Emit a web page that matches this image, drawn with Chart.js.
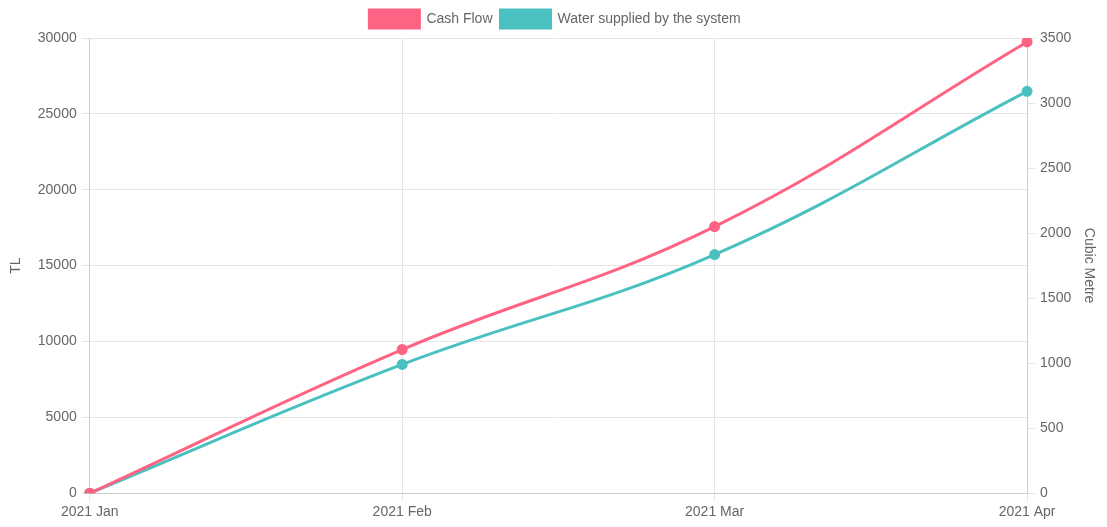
<!DOCTYPE html>
<html>
<head>
<meta charset="utf-8">
<script src="https://cdn.jsdelivr.net/npm/chart.js@4"></script>
<style>
  html, body { margin: 0; padding: 0; background: #fff; }
  #wrap { width: 1107px; height: 527px; }
</style>
</head>
<body>
<div id="wrap"><canvas id="canvas"></canvas></div>
<script>
const months = ['2021 Jan', '2021 Feb', '2021 Mar', '2021 Apr'];
const cashFlow = [0, 9470, 17570, 29740];     // TL
const waterSupplied = [0, 990, 1835, 3090];   // cubic metre

Chart.defaults.font.family = '"Liberation Sans", Arial, sans-serif';
Chart.defaults.font.size = 14;
Chart.defaults.color = '#666';

// plain numbers on the axes, no thousands separator
const plain = function(value) { return String(value); };

const ctx = document.getElementById('canvas').getContext('2d');
const myChart = new Chart(ctx, {
    type: 'line',
    data: {
        labels: months,
        datasets: [{
            label: 'Cash Flow',
            data: cashFlow,
            yAxisID: 'y',
            borderColor: 'rgb(255, 99, 132)',
            backgroundColor: 'rgb(255, 99, 132)',
            borderWidth: 3,
            pointRadius: 4,
            tension: 0.4
        }, {
            label: 'Water supplied by the system',
            data: waterSupplied,
            yAxisID: 'y1',
            borderColor: 'rgb(75, 192, 192)',
            backgroundColor: 'rgb(75, 192, 192)',
            borderWidth: 3,
            pointRadius: 4,
            tension: 0.4
        }]
    },
    options: {
        responsive: true,
        maintainAspectRatio: false,
        animation: false,
        layout: { padding: { left: 4, right: 1, top: 2, bottom: 3 } },
        plugins: {
            legend: {
                labels: { boxWidth: 50, boxHeight: 18, padding: 8 }
            }
        },
        scales: {
            x: {
                grid: { color: '#e5e5e5' }
            },
            y: {
                position: 'left',
                min: 0,
                max: 30000,
                ticks: { stepSize: 5000, callback: plain, padding: 5 },
                grid: { color: '#e5e5e5' },
                title: { display: true, text: 'TL', padding: { top: 4, bottom: 8 } }
            },
            y1: {
                position: 'right',
                min: 0,
                max: 3500,
                ticks: { stepSize: 500, callback: plain, padding: 5 },
                grid: { drawOnChartArea: false },
                title: { display: true, text: 'Cubic Metre', padding: { top: 9, bottom: 4 } }
            }
        }
    }
});
</script>
</body>
</html>
